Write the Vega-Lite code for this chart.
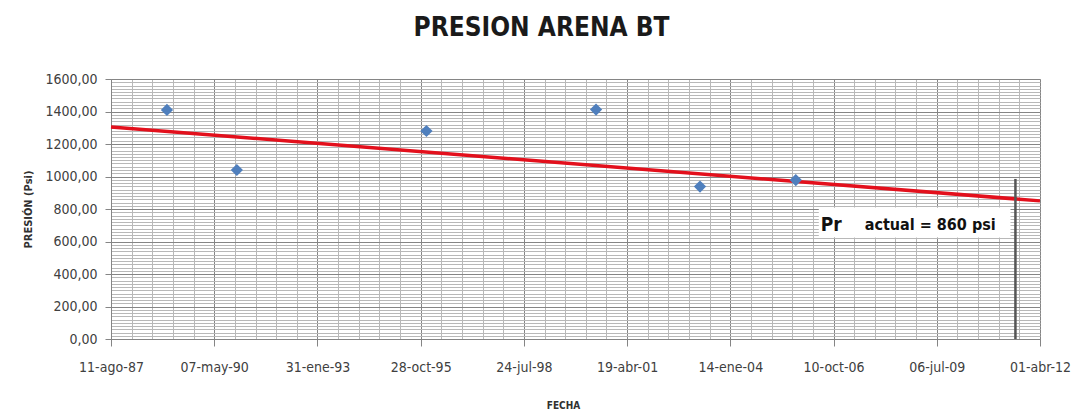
{
  "$schema": "https://vega.github.io/schema/vega-lite/v6.json",
  "width": 929,
  "height": 260,
  "autosize": {"type": "none"},
  "padding": {"left": 111, "top": 79, "right": 45, "bottom": 81},
  "background": "white",
  "title": {
    "text": "PRESION ARENA BT",
    "font": "DejaVu Sans Condensed, sans-serif",
    "fontSize": 26,
    "fontWeight": "bold",
    "color": "#1a1a1a",
    "anchor": "middle",
    "offset": 31,
    "dx": -34
  },
  "config": {
    "view": {"stroke": null},
    "axis": {
      "labelFont": "DejaVu Sans Condensed, sans-serif",
      "titleFont": "DejaVu Sans Condensed, sans-serif",
      "labelColor": "#404040",
      "titleColor": "#303030"
    }
  },
  "datasets": {
    "puntos": [
      {"fecha": "1989-02-03", "presion": 1410},
      {"fecha": "1990-12-12", "presion": 1040},
      {"fecha": "1995-12-23", "presion": 1280},
      {"fecha": "2000-06-22", "presion": 1412},
      {"fecha": "2003-03-26", "presion": 938},
      {"fecha": "2005-10-09", "presion": 978}
    ],
    "tendencia": [
      {"fecha": "1987-08-11", "presion": 1305},
      {"fecha": "2012-04-01", "presion": 850}
    ]
  },
  "layer": [
    {
      "data": {"name": "puntos"},
      "mark": {"type": "point", "opacity": 0},
      "encoding": {
        "x": {
          "field": "fecha", "type": "temporal",
          "scale": {"type": "utc", "domain": [555638400000, 1333238400000]},
          "axis": {
            "orient": "bottom", "grid": true, "gridColor": "#b8b8b8", "gridWidth": 1,
            "labels": false, "ticks": false, "domain": false, "title": null,
            "values": [555638400000, 572918400000, 590198400000, 607478400000, 624758400000, 642038400000, 659318400000, 676598400000, 693878400000, 711158400000, 728438400000, 745718400000, 762998400000, 780278400000, 797558400000, 814838400000, 832118400000, 849398400000, 866678400000, 883958400000, 901238400000, 918518400000, 935798400000, 953078400000, 970358400000, 987638400000, 1004918400000, 1022198400000, 1039478400000, 1056758400000, 1074038400000, 1091318400000, 1108598400000, 1125878400000, 1143158400000, 1160438400000, 1177718400000, 1194998400000, 1212278400000, 1229558400000, 1246838400000, 1264118400000, 1281398400000, 1298678400000, 1315958400000, 1333238400000]
          }
        },
        "y": {
          "field": "presion", "type": "quantitative",
          "scale": {"domain": [0, 1600], "nice": false},
          "axis": {
            "orient": "left", "grid": true, "gridColor": "#b8b8b8", "gridWidth": 1,
            "labels": false, "ticks": false, "domain": false, "title": null,
            "values": [0,20,40,60,80,100,120,140,160,180,200,220,240,260,280,300,320,340,360,380,400,420,440,460,480,500,520,540,560,580,600,620,640,660,680,700,720,740,760,780,800,820,840,860,880,900,920,940,960,980,1000,1020,1040,1060,1080,1100,1120,1140,1160,1180,1200,1220,1240,1260,1280,1300,1320,1340,1360,1380,1400,1420,1440,1460,1480,1500,1520,1540,1560,1580,1600]
          }
        }
      }
    },
    {
      "data": {"name": "tendencia"},
      "mark": {"type": "line", "color": "#e3101c", "strokeWidth": 3.5},
      "encoding": {
        "x": {
          "field": "fecha", "type": "temporal",
          "axis": {
            "orient": "bottom", "grid": true, "gridColor": "#858585", "gridWidth": 1,
            "domain": true, "domainColor": "#858585",
            "ticks": true, "tickSize": 7, "tickColor": "#858585",
            "labelPadding": 14, "labelFontSize": 14, "labelFlush": false,
            "values": [555638400000, 642038400000, 728438400000, 814838400000, 901238400000, 987638400000, 1074038400000, 1160438400000, 1246838400000, 1333238400000],
            "labelExpr": "utcFormat(datum.value, '%d') + '-' + ['ene','feb','mar','abr','may','jun','jul','ago','sep','oct','nov','dic'][utcmonth(datum.value)] + '-' + utcFormat(datum.value, '%y')",
            "title": "FECHA",
            "titleFontSize": 10, "titleFontWeight": "bold",
            "titleX": 452, "titleY": 66, "titleAlign": "center", "titleBaseline": "middle"
          }
        },
        "y": {
          "field": "presion", "type": "quantitative",
          "axis": {
            "orient": "left", "grid": true, "gridColor": "#858585", "gridWidth": 1,
            "domain": true, "domainColor": "#858585",
            "ticks": true, "tickSize": 6, "tickColor": "#858585",
            "labelPadding": 8, "labelFontSize": 14, "labelFlush": false,
            "values": [0, 200, 400, 600, 800, 1000, 1200, 1400, 1600],
            "labelExpr": "replace(format(datum.value, '.2f'), '.', ',')",
            "title": "PRESIÓN   (Psi)",
            "titleFontSize": 11, "titleFontWeight": "bold",
            "titleX": -83, "titleY": 130, "titleAngle": -90, "titleAlign": "center", "titleBaseline": "middle"
          }
        }
      }
    },
    {
      "data": {"name": "puntos"},
      "mark": {"type": "point", "shape": "diamond", "filled": true, "size": 150, "color": "#4f7fbd", "opacity": 1},
      "encoding": {
        "x": {"field": "fecha", "type": "temporal", "axis": null},
        "y": {"field": "presion", "type": "quantitative", "axis": null}
      }
    },
    {
      "data": {"values": [{}]},
      "mark": {"type": "rule", "color": "#555555", "strokeWidth": 2.5},
      "encoding": {
        "x": {"datum": {"year": 2011, "month": 8, "date": 7, "utc": true}, "type": "temporal", "axis": null},
        "y": {"datum": 0, "type": "quantitative", "axis": null},
        "y2": {"datum": 985}
      }
    },
    {
      "data": {"values": [{}]},
      "mark": {"type": "rect", "fill": "white"},
      "encoding": {
        "x": {"datum": {"year": 2006, "month": 5, "date": 20, "utc": true}, "type": "temporal", "axis": null},
        "x2": {"datum": {"year": 2011, "month": 6, "date": 20, "utc": true}},
        "y": {"datum": 810, "type": "quantitative", "axis": null},
        "y2": {"datum": 625}
      }
    },
    {
      "data": {"values": [{}]},
      "mark": {"type": "text", "text": "Pr", "align": "left", "baseline": "middle", "fontSize": 19, "fontWeight": "bold", "font": "DejaVu Sans Condensed, sans-serif", "color": "#111111"},
      "encoding": {
        "x": {"datum": {"year": 2006, "month": 6, "date": 8, "utc": true}, "type": "temporal", "axis": null},
        "y": {"datum": 701, "type": "quantitative", "axis": null}
      }
    },
    {
      "data": {"values": [{}]},
      "mark": {"type": "text", "text": "actual = 860 psi", "align": "left", "baseline": "middle", "fontSize": 16, "fontWeight": "bold", "font": "DejaVu Sans Condensed, sans-serif", "color": "#111111"},
      "encoding": {
        "x": {"datum": {"year": 2007, "month": 8, "date": 8, "utc": true}, "type": "temporal", "axis": null},
        "y": {"datum": 701, "type": "quantitative", "axis": null}
      }
    }
  ],
  "resolve": {"axis": {"x": "independent", "y": "independent"}}
}
